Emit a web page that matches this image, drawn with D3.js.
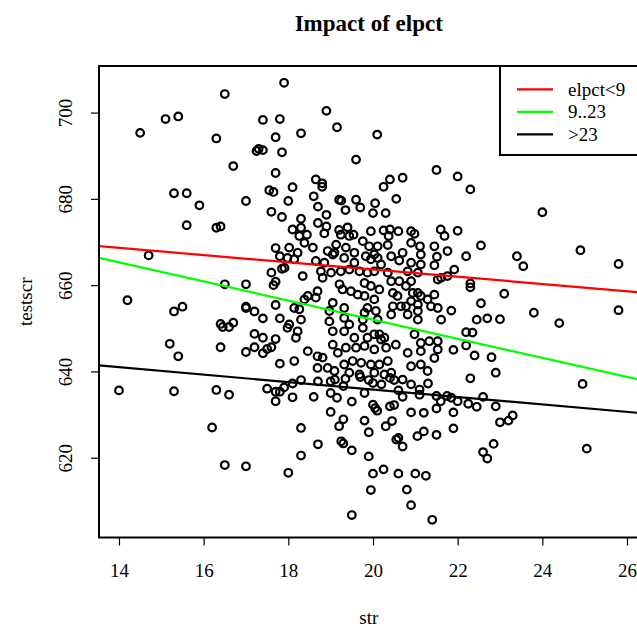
<!DOCTYPE html>
<html>
<head>
<meta charset="utf-8">
<script src="https://cdn.jsdelivr.net/npm/d3@7"></script>
<style>
  body { margin: 0; background: #fff; }
  text { font-family: "Liberation Serif", "DejaVu Serif", serif; fill: #000; }
</style>
</head>
<body>
<svg id="chart" width="637" height="628"></svg>
<script>
// Chart text
const chartTitle = "Impact of elpct";
const xLabel = "str";
const yLabel = "testscr";

// Axis ticks
const xTicks = [14, 16, 18, 20, 22, 24, 26];
const yTicks = [620, 640, 660, 680, 700];

// Fitted lines per English-learner group: testscr = intercept + slope * str
const groupLabels = ["elpct<9", "9..23", ">23"];
const groupColors = ["#ff0000", "#00ff00", "#000000"];
const intercepts = [680.36, 696.27, 653.06];
const slopes = [-0.837, -2.213, -0.863];

// Districts: [student-teacher ratio, average test score]
const districts = [
  [17.9,706.9],[16.5,704.3],[15.1,698.5],[15.4,699.1],[14.5,695.3],[16.3,694.0],[17.4,698.3],[17.8,698.5],[17.7,694.3],[17.25,691.1],
  [17.3,691.6],[17.4,691.3],[17.85,690.8],[16.7,687.6],[17.7,686.0],[15.3,681.3],[15.6,681.3],[15.9,678.5],[17.0,679.5],[17.55,682.0],
  [17.65,681.6],[17.6,677.0],[17.85,675.8],[18.0,679.5],[15.6,673.9],[16.3,673.3],[16.4,673.6],[18.9,700.4],[18.3,695.2],[19.15,696.6],
  [20.1,694.9],[19.6,689.1],[21.5,686.7],[22.0,685.2],[18.65,684.5],[18.8,683.6],[18.8,682.8],[18.1,682.7],[18.6,680.6],[20.25,682.8],
  [20.4,684.5],[20.7,684.9],[19.2,679.8],[19.25,679.6],[19.6,679.8],[20.55,680.0],[20.05,679.0],[18.7,678.2],[19.35,677.4],[19.7,678.0],
  [18.9,676.3],[20.0,676.7],[20.3,676.7],[18.3,675.4],[18.7,674.4],[18.1,672.9],[18.3,673.3],[18.9,673.6],[19.2,672.8],[19.4,673.4],
  [19.95,672.5],[20.25,672.7],[20.4,672.9],[20.6,672.5],[20.9,672.5],[21.6,672.9],[22.0,672.6],[22.3,682.2],[24.0,676.9],
  [22.55,669.2],[22.2,666.7],[23.4,666.7],[23.55,664.4],[24.9,668.1],[25.8,664.9],[22.3,660.4],[22.3,659.5],[23.1,658.0],[22.55,655.8],
  [21.85,654.1],[22.45,652.0],[22.7,652.3],[23.0,652.1],[23.8,653.6],[24.4,651.2],[25.8,654.2],[22.2,649.1],[22.35,649.0],[21.9,645.0],
  [22.2,646.0],[22.4,643.7],[22.8,643.3],[22.9,639.7],[22.3,638.4],[24.95,637.1],
  [17.7,668.6],[17.8,666.7],[14.7,666.9],[17.6,662.9],[17.7,660.8],[17.65,660.0],[17.85,663.8],[16.5,660.2],[17.0,660.2],[14.2,656.5],
  [15.3,653.9],[15.5,655.0],[17.0,655.0],[17.0,654.7],[17.2,653.9],[17.4,652.3],[17.7,655.4],[17.8,652.3],[16.4,651.0],[16.45,650.3],
  [16.6,650.3],[16.7,651.3],[17.2,648.7],[17.4,647.8],[17.7,647.5],[15.2,646.4],[15.4,643.5],[16.4,645.6],[17.0,644.5],[17.2,645.6],
  [17.4,644.2],[17.5,645.2],[17.6,645.6],[17.8,641.8],
  [14.0,635.6],[15.3,635.4],[16.3,635.7],[16.6,634.6],[17.5,636.0],[17.7,635.3],[17.8,635.3],[17.7,633.1],[16.2,627.0],[16.5,618.3],[17.0,618.0],
  [17.9,636.3],[18.1,637.2],[18.3,638.0],[18.7,637.7],[19.0,637.7],[19.1,638.1],[19.3,636.6],[19.35,638.3],[19.7,638.7],[19.9,638.0],
  [20.0,637.3],[20.2,637.0],[20.4,638.5],[20.5,638.0],[20.7,638.1],[20.9,637.0],[21.1,635.8],[21.3,637.2],[21.1,634.6],[21.5,634.3],
  [21.6,633.1],[21.75,634.3],[21.85,633.9],[22.0,633.1],[18.1,634.0],[18.6,634.1],[19.0,635.0],[19.15,633.9],[19.5,633.0],[19.8,635.0],
  [20.6,635.6],[20.7,634.1],[19.0,630.6],[19.3,628.9],[19.2,627.3],[18.3,626.9],[19.8,628.6],[19.9,625.9],[20.0,632.3],[20.05,631.5],
  [20.1,630.9],[20.4,631.9],[20.5,632.2],[20.9,630.5],[21.2,630.4],[21.5,631.4],[21.9,630.5],[20.45,628.5],[20.3,627.3],[20.55,624.2],
  [20.6,624.6],[20.7,622.6],[21.05,625.0],[21.2,626.1],[21.5,625.3],[21.9,626.8],[18.7,623.1],[19.25,623.8],[19.3,623.3],[19.5,621.7],
  [18.3,620.5],[19.9,620.3],[18.0,616.5],[20.0,616.3],[20.25,617.3],[20.6,616.3],[21.0,616.3],[21.25,615.8],[19.95,612.5],[20.8,612.6],
  [20.9,609.0],[19.5,606.7],[21.4,605.6],
  [22.25,632.5],[22.45,631.8],[22.6,634.1],[22.9,631.9],[23.0,628.2],[23.2,628.6],[23.3,629.8],[22.85,623.2],[22.6,621.3],[22.7,619.8],[25.05,622.1],
  [19.24,671.7],[19.44,671.4],[19.54,671.7],[18.26,671.4],[18.44,671.7],[18.85,672.0],[20.37,671.4],[20.98,671.9],[21.69,671.4],
  [18.02,668.7],[18.22,667.5],[18.38,669.8],[18.58,668.7],[18.93,667.9],[19.13,669.4],[19.09,667.5],[19.36,668.7],[19.56,667.5],[19.76,670.2],
  [19.91,669.0],[20.11,669.0],[20.35,669.3],[20.03,667.1],[20.70,667.5],[20.90,669.8],[21.11,669.0],[21.13,667.1],[21.45,669.0],[21.51,666.6],[21.76,667.9],
  [17.98,666.3],[18.14,666.0],[18.65,665.6],[18.85,665.2],[19.05,667.1],[19.32,666.3],[19.56,665.2],[19.83,666.7],[19.95,666.0],[20.11,666.3],
  [20.19,664.8],[20.43,666.7],[20.62,665.7],[20.90,665.2],[21.13,664.8],[21.45,664.6],[17.91,664.0],[18.34,662.1],[18.77,663.2],[19.01,662.9],
  [19.24,663.2],[19.44,663.6],[19.68,663.2],[19.87,662.9],[20.03,663.2],[20.35,662.9],[20.82,663.2],[21.06,662.9],[21.53,661.3],[21.92,663.6],
  [18.81,661.7],[19.21,660.2],[19.28,659.0],[19.48,658.6],[19.80,660.5],[19.95,659.8],[20.15,659.0],[20.43,660.9],[20.62,660.9],[20.78,659.8],
  [20.90,660.9],[21.06,658.2],[21.45,657.8],[21.61,661.7],[21.76,662.1],[18.46,657.5],[18.69,658.6],[18.65,657.1],[18.38,656.7],[19.64,657.8],
  [19.80,657.5],[20.03,656.7],[20.47,658.2],[20.58,657.5],[20.94,658.2],[21.13,657.5],[21.29,656.7],[20.90,656.3],
  [18.14,654.7],[18.26,654.4],[19.05,655.9],[18.97,654.0],[19.32,654.7],[19.87,654.7],[19.80,653.6],[20.07,654.0],[20.47,655.1],[20.66,655.1],
  [20.78,655.1],[21.06,655.5],[21.06,654.0],[21.37,655.1],[21.53,654.7],[21.61,652.0],[18.30,652.0],[18.02,650.9],[18.97,651.6],[19.32,652.4],
  [19.44,650.9],[19.76,652.0],[20.11,652.0],[20.43,653.2],[20.82,653.2],[21.06,652.0],
  [17.98,650.1],[18.22,649.3],[18.18,647.8],[19.05,649.3],[19.32,649.3],[19.76,650.1],[20.03,648.6],[20.15,648.6],[20.27,647.8],[20.19,647.4],
  [19.87,647.8],[19.56,647.8],[20.98,648.6],[21.13,646.6],[21.33,647.0],[21.53,647.0],[19.05,646.2],[19.36,645.5],[19.60,645.5],[19.80,645.9],
  [20.03,645.1],[20.31,645.5],[20.54,646.2],[18.46,644.7],[18.69,643.5],[18.81,643.2],[19.17,644.3],[20.82,644.3],[21.13,644.7],[21.53,645.1],
  [18.14,642.4],[18.69,640.8],[18.93,640.8],[19.09,640.1],[19.32,641.6],[19.52,642.4],[19.72,642.0],[19.95,641.6],[20.15,641.6],[20.35,642.4],
  [19.44,639.7],[19.68,639.3],[20.03,639.7],[20.27,639.3],[20.43,639.7],[20.9,641.2],[21.13,641.6],[21.29,640.1],[21.45,643.1]
];

// Plot region (the right edge runs just past the canvas)
const plot = { left: 99, right: 638.5, top: 66, bottom: 537.5 };

const x = d3.scaleLinear().domain([13.528, 26.272]).range([plot.left, plot.right]);
const y = d3.scaleLinear().domain([601.5, 710.8]).range([plot.bottom, plot.top]);

const svg = d3.select("#chart");
svg.append("rect").attr("width", 637).attr("height", 628).attr("fill", "#fff");

svg.append("defs").append("clipPath").attr("id", "plot-clip")
  .append("rect")
  .attr("x", plot.left).attr("y", plot.top)
  .attr("width", plot.right - plot.left).attr("height", plot.bottom - plot.top);

// Title
svg.append("text")
  .attr("x", (plot.left + plot.right) / 2).attr("y", 31)
  .attr("text-anchor", "middle")
  .style("font-size", "23px").style("font-weight", "bold")
  .text(chartTitle);

// Points
svg.append("g").attr("clip-path", "url(#plot-clip)")
  .selectAll("circle").data(districts).join("circle")
  .attr("cx", d => x(d[0])).attr("cy", d => y(d[1]))
  .attr("r", 3.8)
  .attr("fill", "none").attr("stroke", "#000").attr("stroke-width", 2.2);

// Regression lines across the full x-range
const [x0, x1] = x.domain();
svg.append("g").attr("clip-path", "url(#plot-clip)")
  .selectAll("line").data(groupLabels.map((g, i) => i)).join("line")
  .attr("x1", x(x0)).attr("x2", x(x1))
  .attr("y1", i => y(intercepts[i] + slopes[i] * x0))
  .attr("y2", i => y(intercepts[i] + slopes[i] * x1))
  .attr("stroke", i => groupColors[i]).attr("stroke-width", 2.2);

// Axes
const xAxis = svg.append("g")
  .attr("transform", `translate(0,${plot.bottom})`)
  .call(d3.axisBottom(x).tickValues(xTicks).tickSize(8).tickPadding(18).tickFormat(d3.format("d")));
const yAxis = svg.append("g")
  .attr("transform", `translate(${plot.left},0)`)
  .call(d3.axisLeft(y).tickValues(yTicks).tickSize(8).tickFormat(d3.format("d")));

[xAxis, yAxis].forEach(g => {
  g.select(".domain").remove();
  g.selectAll(".tick line").attr("stroke", "#000").attr("stroke-width", 1.2);
  g.selectAll(".tick text").style("font-size", "19px").style("font-family", "'Liberation Serif', serif").attr("fill", "#000");
});
yAxis.selectAll(".tick text")
  .attr("transform", "rotate(-90)")
  .attr("x", 0).attr("y", -27.5).attr("dy", 0)
  .attr("text-anchor", "middle");

// Frame
svg.append("rect")
  .attr("x", plot.left).attr("y", plot.top)
  .attr("width", plot.right - plot.left).attr("height", plot.bottom - plot.top)
  .attr("fill", "none").attr("stroke", "#000").attr("stroke-width", 2);

// Axis titles
svg.append("text")
  .attr("x", (plot.left + plot.right) / 2).attr("y", 624)
  .attr("text-anchor", "middle").style("font-size", "19px")
  .text(xLabel);
svg.append("text")
  .attr("transform", `translate(32,${(plot.top + plot.bottom) / 2}) rotate(-90)`)
  .attr("text-anchor", "middle").style("font-size", "19px")
  .text(yLabel);

// Legend in the top-right corner
const legend = svg.append("g");
legend.append("rect")
  .attr("x", 500).attr("y", plot.top)
  .attr("width", plot.right - 500).attr("height", 89)
  .attr("fill", "#fff").attr("stroke", "#000").attr("stroke-width", 2);
const rows = legend.selectAll("g.row").data(groupLabels).join("g")
  .attr("class", "row")
  .attr("transform", (d, i) => `translate(0,${89.3 + i * 22.5})`);
rows.append("line")
  .attr("x1", 517).attr("x2", 553).attr("y1", 0).attr("y2", 0)
  .attr("stroke", (d, i) => groupColors[i]).attr("stroke-width", 2.2);
rows.append("text")
  .attr("x", 568).attr("y", 0).attr("dy", "0.33em")
  .style("font-size", "19px")
  .text(d => d);
</script>
</body>
</html>
